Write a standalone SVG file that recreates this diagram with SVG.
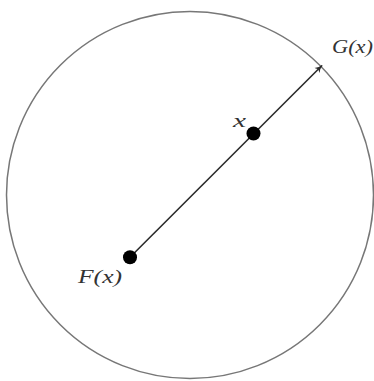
<svg xmlns="http://www.w3.org/2000/svg" width="374" height="381" viewBox="0 0 374 381">
<style>
.lbl{font-family:"Liberation Serif","DejaVu Serif",serif;font-style:italic;font-size:18px;fill:#333}
.conn{stroke:#2a2a2a;stroke-width:1.6;fill:none}
.dot{fill:#000}
</style>
<defs>
<marker id="arr" viewBox="0 0 10 10" refX="9" refY="5" markerWidth="8" markerHeight="8" orient="auto" markerUnits="userSpaceOnUse">
<path d="M0,0.5 Q4,4 10,5 Q4,6 0,9.5 L2.5,5 Z" fill="#2a2a2a"/>
</marker>
</defs>
<rect width="374" height="381" fill="#fff"/>
<g id="circle">
<circle cx="190" cy="195" r="183.5" fill="none" stroke="#777" stroke-width="1.5"/>
</g>
<g id="connectors">
<line class="conn" x1="130" y1="257.3" x2="322" y2="65.5" marker-end="url(#arr)"/>
</g>
<g id="node-F">
<circle class="dot" cx="130" cy="257.3" r="7"/>
<text class="lbl" x="78" y="283" textLength="44" lengthAdjust="spacingAndGlyphs">F(x)</text>
</g>
<g id="node-x">
<circle class="dot" cx="253.5" cy="133.5" r="7"/>
<text class="lbl" x="233" y="127" textLength="13" lengthAdjust="spacingAndGlyphs">x</text>
</g>
<g id="node-G">
<text class="lbl" x="332" y="53" textLength="41" lengthAdjust="spacingAndGlyphs">G(x)</text>
</g>
</svg>
